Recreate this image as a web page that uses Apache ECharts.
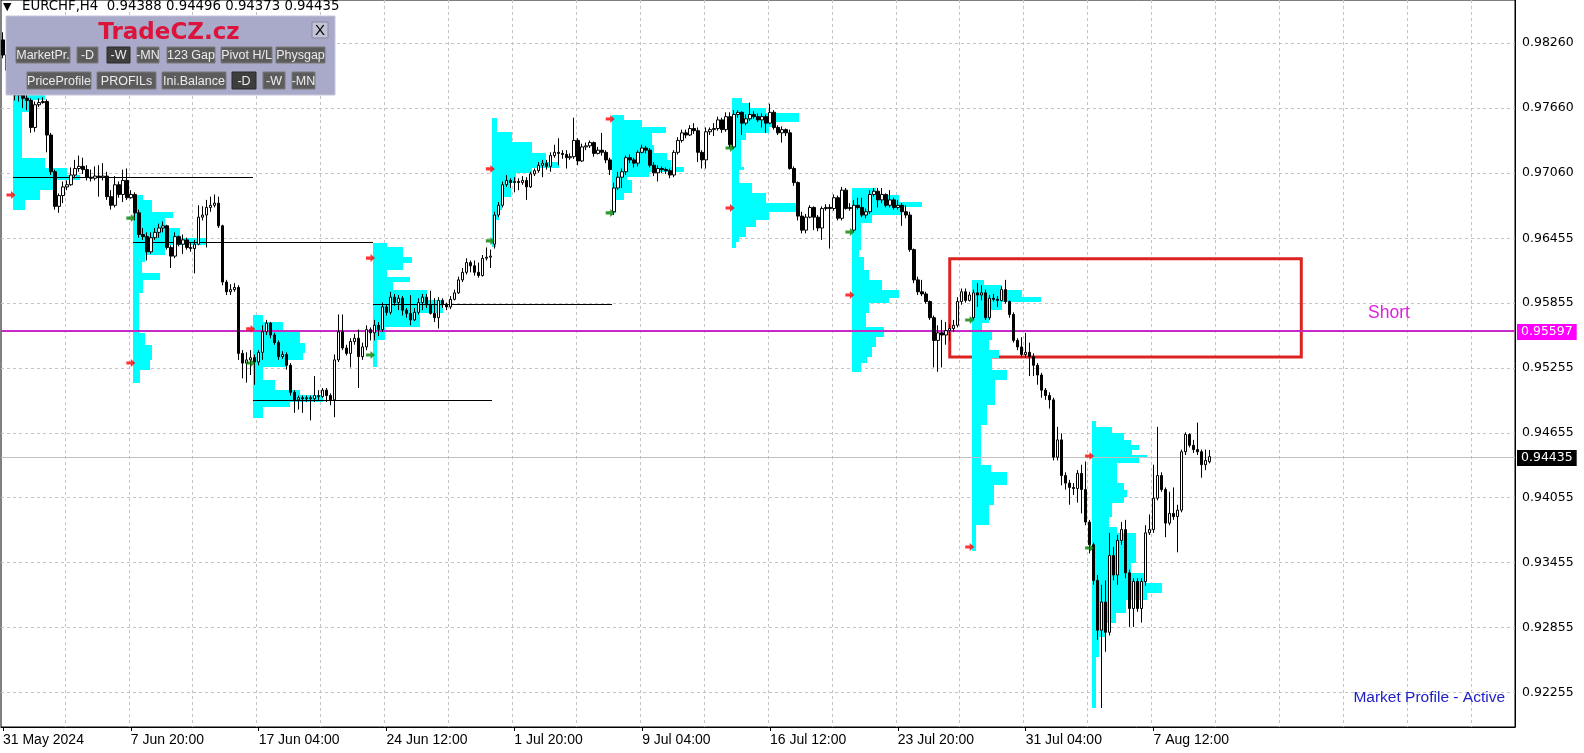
<!DOCTYPE html>
<html>
<head>
<meta charset="utf-8">
<title>EURCHF,H4</title>
<script src="https://cdn.jsdelivr.net/npm/echarts@6/dist/echarts.min.js"></script>
<style>
  html, body { margin: 0; padding: 0; background: #fff; }
  #chart { width: 1584px; height: 753px; }
</style>
</head>
<body>
<div id="chart"></div>
<script>
// bar slots on the time axis (H4 bars from 31 May 12:00, plus empty shift to the right)
const slotCount = 379;
const barsPerTick = 32;
const timeTicks = ['31 May 2024', '7 Jun 20:00', '17 Jun 04:00', '24 Jun 12:00', '1 Jul 20:00',
  '9 Jul 04:00', '16 Jul 12:00', '23 Jul 20:00', '31 Jul 04:00', '7 Aug 12:00'];
const priceTicks = [0.98260, 0.97660, 0.97060, 0.96455, 0.95855, 0.95255, 0.94655, 0.94055, 0.93455, 0.92855, 0.92255];
const priceMin = 0.91934;
const priceMax = 0.98659;

// candles: [open, close, low, high], one array per trading week
const week0 = [[0.9829,0.9815,0.9812,0.9836],[0.9815,0.9801,0.9794,0.9820],[0.9801,0.9787,0.9781,0.9803]];
const week1 = [
  [0.9787,0.9778,0.9773,0.9790],[0.9778,0.9781,0.9772,0.9785],[0.9781,0.9775,0.9766,0.9783],[0.9775,0.9773,0.9764,0.9778],
  [0.9773,0.9748,0.9743,0.9775],[0.9748,0.9769,0.9744,0.9772],[0.9769,0.9771,0.9767,0.9775],[0.9771,0.9772,0.9770,0.9776],
  [0.9772,0.9741,0.9725,0.9774],[0.9741,0.9707,0.9704,0.9743],[0.9707,0.9675,0.9672,0.9709],[0.9675,0.9685,0.9669,0.9687],
  [0.9685,0.9693,0.9678,0.9698],[0.9693,0.9695,0.9690,0.9699],[0.9695,0.9704,0.9694,0.9711],[0.9704,0.9710,0.9701,0.9718],
  [0.9710,0.9712,0.9707,0.9722],[0.9712,0.9709,0.9705,0.9720],[0.9709,0.9702,0.9699,0.9713],[0.9702,0.9701,0.9698,0.9709],
  [0.9701,0.9703,0.9699,0.9712],[0.9703,0.9702,0.9684,0.9713],[0.9702,0.9703,0.9699,0.9715],[0.9703,0.9684,0.9681,0.9707],
  [0.9684,0.9676,0.9672,0.9690],[0.9676,0.9695,0.9674,0.9703],[0.9695,0.9686,0.9683,0.9698],[0.9686,0.9699,0.9679,0.9709],
  [0.9699,0.9683,0.9681,0.9710],[0.9683,0.9686,0.9682,0.9690]];
const week2 = [
  [0.9686,0.9669,0.9662,0.9688],[0.9669,0.9649,0.9646,0.9672],[0.9649,0.9647,0.9644,0.9655],[0.9647,0.9633,0.9625,0.9651],
  [0.9633,0.9646,0.9631,0.9651],[0.9646,0.9651,0.9644,0.9655],[0.9651,0.9655,0.9646,0.9659],[0.9655,0.9657,0.9651,0.9661],
  [0.9657,0.9637,0.9635,0.9658],[0.9637,0.9629,0.9618,0.9639],[0.9629,0.9647,0.9627,0.9651],[0.9647,0.9640,0.9638,0.9648],
  [0.9640,0.9644,0.9631,0.9649],[0.9644,0.9637,0.9635,0.9646],[0.9637,0.9636,0.9633,0.9641],[0.9636,0.9640,0.9613,0.9644],
  [0.9640,0.9665,0.9639,0.9676],[0.9665,0.9667,0.9662,0.9675],[0.9667,0.9674,0.9637,0.9681],[0.9674,0.9676,0.9670,0.9684],
  [0.9676,0.9678,0.9674,0.9686],[0.9678,0.9657,0.9655,0.9684],[0.9657,0.9605,0.9602,0.9658],[0.9605,0.9596,0.9593,0.9607],
  [0.9596,0.9598,0.9593,0.9603],[0.9598,0.9600,0.9596,0.9604],[0.9600,0.9539,0.9533,0.9602],[0.9539,0.9530,0.9516,0.9542],
  [0.9530,0.9533,0.9512,0.9540],[0.9533,0.9535,0.9519,0.9542]];
const week3 = [
  [0.9535,0.9531,0.9510,0.9538],[0.9531,0.9540,0.9528,0.9542],[0.9540,0.9559,0.9533,0.9565],[0.9559,0.9567,0.9556,0.9570],
  [0.9567,0.9556,0.9553,0.9568],[0.9556,0.9549,0.9547,0.9558],[0.9549,0.9536,0.9533,0.9551],[0.9536,0.9538,0.9534,0.9541],
  [0.9538,0.9528,0.9524,0.9540],[0.9528,0.9503,0.9500,0.9530],[0.9503,0.9496,0.9484,0.9505],[0.9496,0.9498,0.9487,0.9500],
  [0.9498,0.9497,0.9484,0.9500],[0.9497,0.9498,0.9494,0.9500],[0.9498,0.9497,0.9477,0.9500],[0.9497,0.9500,0.9494,0.9518],
  [0.9500,0.9499,0.9496,0.9505],[0.9499,0.9505,0.9498,0.9507],[0.9505,0.9500,0.9494,0.9507],[0.9500,0.9496,0.9491,0.9502],
  [0.9496,0.9533,0.9480,0.9538],[0.9533,0.9559,0.9531,0.9575],[0.9559,0.9544,0.9542,0.9575],[0.9544,0.9539,0.9537,0.9547],
  [0.9539,0.9550,0.9526,0.9553],[0.9550,0.9553,0.9547,0.9557],[0.9553,0.9536,0.9507,0.9561],[0.9536,0.9545,0.9533,0.9549],
  [0.9545,0.9561,0.9542,0.9565],[0.9561,0.9558,0.9551,0.9563]];
const week4 = [
  [0.9558,0.9565,0.9551,0.9570],[0.9565,0.9561,0.9555,0.9568],[0.9561,0.9582,0.9559,0.9586],[0.9582,0.9577,0.9574,0.9584],
  [0.9577,0.9591,0.9575,0.9596],[0.9591,0.9586,0.9583,0.9594],[0.9586,0.9590,0.9579,0.9593],[0.9590,0.9579,0.9574,0.9592],
  [0.9579,0.9576,0.9572,0.9581],[0.9576,0.9570,0.9565,0.9593],[0.9570,0.9577,0.9569,0.9581],[0.9577,0.9586,0.9575,0.9590],
  [0.9586,0.9591,0.9579,0.9594],[0.9591,0.9584,0.9581,0.9594],[0.9584,0.9576,0.9575,0.9597],[0.9576,0.9572,0.9568,0.9590],
  [0.9572,0.9588,0.9562,0.9591],[0.9588,0.9584,0.9581,0.9590],[0.9584,0.9582,0.9579,0.9586],[0.9582,0.9589,0.9580,0.9592],
  [0.9589,0.9595,0.9588,0.9598],[0.9595,0.9607,0.9594,0.9610],[0.9607,0.9614,0.9605,0.9618],[0.9614,0.9623,0.9612,0.9627],
  [0.9623,0.9620,0.9614,0.9625],[0.9620,0.9614,0.9611,0.9625],[0.9614,0.9611,0.9609,0.9623],[0.9611,0.9627,0.9610,0.9630],
  [0.9627,0.9628,0.9625,0.9637],[0.9628,0.9629,0.9618,0.9635]];
const week5 = [
  [0.9640,0.9667,0.9636,0.9670],[0.9667,0.9676,0.9665,0.9679],[0.9676,0.9695,0.9674,0.9698],[0.9695,0.9699,0.9693,0.9704],
  [0.9699,0.9697,0.9692,0.9701],[0.9697,0.9698,0.9688,0.9702],[0.9698,0.9697,0.9690,0.9701],[0.9697,0.9699,0.9695,0.9703],
  [0.9699,0.9693,0.9681,0.9702],[0.9693,0.9705,0.9692,0.9707],[0.9705,0.9708,0.9703,0.9710],[0.9708,0.9713,0.9706,0.9716],
  [0.9713,0.9715,0.9702,0.9718],[0.9715,0.9712,0.9709,0.9718],[0.9712,0.9722,0.9707,0.9725],[0.9722,0.9725,0.9720,0.9732],
  [0.9725,0.9724,0.9713,0.9738],[0.9724,0.9723,0.9719,0.9727],[0.9723,0.9720,0.9710,0.9727],[0.9720,0.9721,0.9718,0.9724],
  [0.9721,0.9736,0.9719,0.9757],[0.9736,0.9717,0.9713,0.9738],[0.9717,0.9730,0.9716,0.9733],[0.9730,0.9731,0.9727,0.9734],
  [0.9731,0.9734,0.9729,0.9736],[0.9734,0.9724,0.9721,0.9735],[0.9724,0.9727,0.9723,0.9730],[0.9727,0.9725,0.9722,0.9743],
  [0.9725,0.9718,0.9715,0.9727],[0.9718,0.9709,0.9704,0.9720]];
const week6 = [
  [0.9670,0.9692,0.9667,0.9697],[0.9692,0.9702,0.9690,0.9707],[0.9702,0.9707,0.9692,0.9710],[0.9707,0.9720,0.9704,0.9722],
  [0.9720,0.9718,0.9715,0.9723],[0.9718,0.9715,0.9711,0.9720],[0.9715,0.9725,0.9712,0.9727],[0.9725,0.9729,0.9724,0.9732],
  [0.9729,0.9727,0.9724,0.9731],[0.9727,0.9713,0.9711,0.9729],[0.9713,0.9706,0.9703,0.9716],[0.9706,0.9710,0.9698,0.9713],
  [0.9710,0.9709,0.9706,0.9712],[0.9709,0.9708,0.9705,0.9711],[0.9708,0.9704,0.9701,0.9710],[0.9704,0.9725,0.9702,0.9727],
  [0.9725,0.9736,0.9723,0.9739],[0.9736,0.9743,0.9734,0.9746],[0.9743,0.9741,0.9738,0.9746],[0.9741,0.9747,0.9740,0.9750],
  [0.9747,0.9745,0.9742,0.9752],[0.9745,0.9725,0.9716,0.9748],[0.9725,0.9718,0.9710,0.9727],[0.9718,0.9744,0.9710,0.9748],
  [0.9744,0.9746,0.9741,0.9748],[0.9746,0.9747,0.9740,0.9752],[0.9747,0.9755,0.9745,0.9758],[0.9755,0.9746,0.9743,0.9757],
  [0.9746,0.9758,0.9744,0.9762],[0.9758,0.9732,0.9729,0.9762]];
const week7 = [
  [0.9730,0.9760,0.9728,0.9764],[0.9760,0.9762,0.9757,0.9764],[0.9762,0.9752,0.9741,0.9763],[0.9752,0.9756,0.9750,0.9760],
  [0.9756,0.9760,0.9754,0.9771],[0.9760,0.9758,0.9756,0.9763],[0.9758,0.9755,0.9753,0.9761],[0.9755,0.9758,0.9748,0.9761],
  [0.9758,0.9752,0.9743,0.9760],[0.9752,0.9762,0.9751,0.9770],[0.9762,0.9748,0.9746,0.9764],[0.9748,0.9743,0.9741,0.9750],
  [0.9743,0.9746,0.9734,0.9749],[0.9746,0.9743,0.9740,0.9747],[0.9743,0.9710,0.9709,0.9746],[0.9710,0.9697,0.9694,0.9712],
  [0.9697,0.9666,0.9662,0.9698],[0.9666,0.9653,0.9650,0.9670],[0.9653,0.9665,0.9650,0.9668],[0.9665,0.9674,0.9664,0.9676],
  [0.9674,0.9665,0.9653,0.9675],[0.9665,0.9655,0.9652,0.9667],[0.9655,0.9673,0.9644,0.9675],[0.9673,0.9674,0.9671,0.9677],
  [0.9674,0.9673,0.9636,0.9677],[0.9673,0.9683,0.9671,0.9686],[0.9683,0.9664,0.9662,0.9685],[0.9664,0.9690,0.9662,0.9693],
  [0.9690,0.9673,0.9672,0.9692],[0.9673,0.9674,0.9671,0.9678]];
const week8 = [
  [0.9653,0.9676,0.9651,0.9681],[0.9676,0.9674,0.9672,0.9683],[0.9674,0.9667,0.9665,0.9683],[0.9667,0.9670,0.9664,0.9673],
  [0.9670,0.9686,0.9668,0.9690],[0.9686,0.9689,0.9684,0.9692],[0.9689,0.9681,0.9674,0.9692],[0.9681,0.9686,0.9678,0.9692],
  [0.9686,0.9676,0.9674,0.9687],[0.9676,0.9681,0.9674,0.9690],[0.9681,0.9674,0.9672,0.9683],[0.9674,0.9676,0.9672,0.9681],
  [0.9676,0.9670,0.9657,0.9678],[0.9670,0.9667,0.9664,0.9676],[0.9667,0.9635,0.9633,0.9670],[0.9635,0.9607,0.9604,0.9636],
  [0.9607,0.9596,0.9593,0.9610],[0.9596,0.9594,0.9592,0.9607],[0.9594,0.9587,0.9585,0.9596],[0.9587,0.9572,0.9570,0.9588],
  [0.9572,0.9551,0.9526,0.9574],[0.9551,0.9558,0.9522,0.9565],[0.9558,0.9556,0.9526,0.9570],[0.9556,0.9560,0.9547,0.9568],
  [0.9560,0.9562,0.9551,0.9566],[0.9562,0.9565,0.9559,0.9570],[0.9565,0.9587,0.9563,0.9591],[0.9587,0.9596,0.9584,0.9599],
  [0.9596,0.9588,0.9586,0.9599],[0.9588,0.9593,0.9587,0.9596]];
const week9 = [
  [0.9572,0.9595,0.9570,0.9598],[0.9595,0.9593,0.9582,0.9604],[0.9593,0.9595,0.9588,0.9602],[0.9595,0.9572,0.9570,0.9598],
  [0.9572,0.9590,0.9570,0.9593],[0.9590,0.9589,0.9587,0.9594],[0.9589,0.9588,0.9582,0.9592],[0.9588,0.9598,0.9587,0.9601],
  [0.9598,0.9587,0.9585,0.9607],[0.9587,0.9575,0.9572,0.9588],[0.9575,0.9551,0.9549,0.9577],[0.9551,0.9545,0.9542,0.9553],
  [0.9545,0.9538,0.9536,0.9554],[0.9538,0.9540,0.9535,0.9558],[0.9540,0.9536,0.9518,0.9549],[0.9536,0.9528,0.9518,0.9539],
  [0.9528,0.9519,0.9510,0.9530],[0.9519,0.9505,0.9498,0.9521],[0.9505,0.9500,0.9496,0.9507],[0.9500,0.9496,0.9488,0.9503],
  [0.9496,0.9443,0.9440,0.9498],[0.9443,0.9459,0.9440,0.9471],[0.9459,0.9426,0.9417,0.9465],[0.9426,0.9419,0.9413,0.9429],
  [0.9419,0.9415,0.9399,0.9422],[0.9415,0.9414,0.9408,0.9419],[0.9414,0.9428,0.9401,0.9431],[0.9428,0.9413,0.9391,0.9436],
  [0.9413,0.9383,0.9380,0.9439],[0.9383,0.9362,0.9354,0.9385]];
const week10 = [
  [0.9362,0.9329,0.9325,0.9364],[0.9329,0.9283,0.9274,0.9334],[0.9283,0.9309,0.9211,0.9325],[0.9309,0.9281,0.9263,0.9329],
  [0.9281,0.9352,0.9278,0.9373],[0.9352,0.9334,0.9329,0.9360],[0.9334,0.9366,0.9325,0.9371],[0.9366,0.9376,0.9362,0.9383],
  [0.9376,0.9336,0.9331,0.9385],[0.9336,0.9303,0.9286,0.9339],[0.9303,0.9328,0.9286,0.9331],[0.9328,0.9303,0.9300,0.9331],
  [0.9303,0.9328,0.9290,0.9331],[0.9328,0.9373,0.9324,0.9380],[0.9373,0.9376,0.9371,0.9390],[0.9376,0.9405,0.9373,0.9436],
  [0.9405,0.9426,0.9403,0.9471],[0.9426,0.9413,0.9411,0.9429],[0.9413,0.9382,0.9369,0.9415],[0.9382,0.9391,0.9380,0.9411],
  [0.9391,0.9388,0.9385,0.9415],[0.9388,0.9394,0.9355,0.9399],[0.9394,0.9448,0.9392,0.9450],[0.9448,0.9464,0.9445,0.9466],
  [0.9464,0.9454,0.9452,0.9465],[0.9454,0.9450,0.9447,0.9459],[0.9450,0.9448,0.9445,0.9475],[0.9448,0.9436,0.9424,0.9450],
  [0.9436,0.9440,0.9431,0.9450],[0.94388,0.94435,0.94373,0.94496]];

// weekly market profiles: first bar of the week, rows of [upper price, lower price, length in bars]
const profileStart = [3, 33, 63, 93, 123, 153, 183, 213, 243, 273];
const profile1 = [[0.97799,0.97734,8.1],[0.97734,0.97623,5.1],[0.97623,0.97198,2.2],[0.97198,0.97105,8.1],[0.97105,0.97040,13.6],
  [0.97040,0.96994,16.8],[0.96994,0.96902,10.6],[0.96902,0.96809,6.8],[0.96809,0.96717,3.1]];
const profile2 = [[0.96855,0.96809,2.6],[0.96809,0.96698,4.8],[0.96698,0.96643,10.1],[0.96643,0.96550,8.1],[0.96550,0.96457,11.8],
  [0.96457,0.96393,18.6],[0.96393,0.96300,8.1],[0.96300,0.96236,3.1],[0.96236,0.96134,2.3],[0.96134,0.96069,6.8],
  [0.96069,0.95949,2.6],[0.95949,0.95579,1.6],[0.95579,0.95468,3.1],[0.95468,0.95329,4.8],[0.95329,0.95236,4.3],[0.95236,0.95116,1.8]];
const profile3 = [[0.95745,0.95681,2.6],[0.95681,0.95607,7.6],[0.95607,0.95486,11.8],[0.95486,0.95394,13.1],[0.95394,0.95329,12.6],
  [0.95329,0.95264,8.6],[0.95264,0.95144,2.6],[0.95144,0.95052,5.6],[0.95052,0.95005,11.8],[0.95005,0.94941,17.6],
  [0.94941,0.94894,9.3],[0.94894,0.94792,2.6]];
const profile4 = [[0.96411,0.96374,3.6],[0.96374,0.96282,7.6],[0.96282,0.96226,9.8],[0.96226,0.96162,7.6],[0.96162,0.96097,3.6],
  [0.96097,0.96051,9.3],[0.96051,0.95977,5.1],[0.95977,0.95884,13.6],[0.95884,0.95764,17.6],[0.95764,0.95634,11.8],
  [0.95634,0.95514,3.1],[0.95514,0.95264,1.1]];
const profile5 = [[0.97568,0.97438,1.3],[0.97438,0.97346,5.1],[0.97346,0.97244,10.1],[0.97244,0.97161,13.6],[0.97161,0.97105,16.8],
  [0.97105,0.97059,10.1],[0.97059,0.96966,6.1],[0.96966,0.96837,4.8],[0.96837,0.96717,2.6],[0.96717,0.96624,1.8],[0.96624,0.96374,1.1]];
const profile6 = [[0.97595,0.97549,3.1],[0.97549,0.97484,7.6],[0.97484,0.97429,13.6],[0.97429,0.97318,10.1],[0.97318,0.97244,10.6],
  [0.97244,0.97179,13.8],[0.97179,0.97114,14.8],[0.97114,0.97068,18.1],[0.97068,0.97022,9.3],[0.97022,0.96994,3.8],
  [0.96994,0.96874,5.1],[0.96874,0.96809,3.1],[0.96809,0.96689,1.1]];
const profile7 = [[0.97753,0.97706,2.6],[0.97706,0.97660,4.3],[0.97660,0.97614,8.6],[0.97614,0.97530,16.8],[0.97530,0.97484,10.1],
  [0.97484,0.97429,9.3],[0.97429,0.97364,3.6],[0.97364,0.97114,2.3],[0.97114,0.97087,3.1],[0.97087,0.96966,1.8],
  [0.96966,0.96874,5.1],[0.96874,0.96781,8.6],[0.96781,0.96698,16.1],[0.96698,0.96624,9.3],[0.96624,0.96559,6.1],
  [0.96559,0.96467,3.6],[0.96467,0.96420,1.8],[0.96420,0.96365,1.1]];
const profile8 = [[0.96920,0.96855,6.1],[0.96855,0.96790,11.8],[0.96790,0.96744,17.6],[0.96744,0.96670,12.6],[0.96670,0.96596,5.1],
  [0.96596,0.96347,2.3],[0.96347,0.96282,1.8],[0.96282,0.96162,3.1],[0.96162,0.96069,4.3],[0.96069,0.95977,7.6],
  [0.95977,0.95903,11.8],[0.95903,0.95856,9.3],[0.95856,0.95764,4.3],[0.95764,0.95634,3.6],[0.95634,0.95542,8.1],
  [0.95542,0.95449,6.1],[0.95449,0.95357,5.1],[0.95357,0.95301,3.8],[0.95301,0.95218,2.3]];
const profile9 = [[0.96069,0.96023,3.1],[0.96023,0.95977,7.6],[0.95977,0.95912,12.6],[0.95912,0.95866,17.3],[0.95866,0.95792,7.6],
  [0.95792,0.95671,4.3],[0.95671,0.95607,2.6],[0.95607,0.95514,5.1],[0.95514,0.95422,4.3],[0.95422,0.95348,6.8],
  [0.95348,0.95237,5.1],[0.95237,0.95144,8.8],[0.95144,0.94913,5.8],[0.94913,0.94728,3.8],[0.94728,0.94358,2.3],
  [0.94358,0.94293,4.8],[0.94293,0.94173,8.8],[0.94173,0.93988,5.6],[0.93988,0.93803,4.3],[0.93803,0.93562,1.1]];
const profile10 = [[0.94765,0.94709,1.1],[0.94709,0.94654,5.1],[0.94654,0.94589,8.1],[0.94589,0.94543,9.8],[0.94543,0.94497,11.8],
  [0.94497,0.94450,10.1],[0.94450,0.94423,13.8],[0.94423,0.94376,11.8],[0.94376,0.94191,6.3],[0.94191,0.94127,8.1],
  [0.94127,0.94062,8.8],[0.94062,0.94007,8.1],[0.94007,0.93877,5.1],[0.93877,0.93784,4.3],[0.93784,0.93729,6.3],
  [0.93729,0.93451,11.1],[0.93451,0.93359,9.8],[0.93359,0.93266,13.6],[0.93266,0.93174,17.6],[0.93174,0.93109,13.8],
  [0.93109,0.92989,8.6],[0.92989,0.92896,6.1],[0.92896,0.92767,3.6],[0.92767,0.92582,1.8],[0.92582,0.92110,1.1]];

// point of control lines: [from bar, to bar, price]
const pocLines = [[3, 63, 0.97022], [33, 93, 0.96424], [63, 123, 0.94959], [93, 153, 0.95847]];

// weekly arrows: [bar, price]
const greenArrows = [[2,0.97937],[32,0.96642],[62,0.95301],[92,0.95375],[122,0.96430],[152,0.96689],[182,0.97290],[212,0.96513],[242,0.95699],[272,0.93590]];
const redArrows = [[2,0.96855],[32,0.95301],[62,0.95616],[92,0.96272],[122,0.97096],[152,0.97558],[182,0.96735],[212,0.95930],[242,0.93599],[272,0.94441]];

// horizontal levels: short entry and last close
const levelPrices = [0.95597, 0.94435];
const shortBox = [237, 0.96266, 325, 0.95357]; // from bar, upper price, to bar, lower price

const candles = [].concat(week0, week1, week2, week3, week4, week5, week6, week7, week8, week9, week10);
const categories = Array.from({ length: slotCount }, (_, i) => String(i));
const profiles = [profile1, profile2, profile3, profile4, profile5, profile6, profile7, profile8, profile9, profile10];
const profileData = [];
profiles.forEach((rows, i) => rows.forEach(r => profileData.push([profileStart[i], r[0], r[1], r[2]])));

const arrowPath = 'path://M0,3L5,3L5,0L10,5L5,10L5,7L0,7Z';
const axisFont = 'DejaVu Sans';
const levelStyle = [
  { stroke: '#c629c6', width: 2, bg: '#ff00ff' },
  { stroke: '#c0c0c0', width: 1, bg: '#000000' }
];

// panel buttons (UI only)
function button(label, x0, x1, y0, y1, pressed) {
  return [
    { type: 'rect', z: 101, shape: { x: x0, y: y0, width: x1 - x0, height: y1 - y0 },
      style: { fill: pressed ? '#3e3e3e' : '#5c5c5c', stroke: pressed ? '#2a2a2a' : '#7a7a7a', lineWidth: 1 } },
    { type: 'text', z: 102, x: (x0 + x1) / 2, y: (y0 + y1) / 2 + 1,
      style: { text: label, fill: '#ececec', font: '12.5px "Liberation Sans"', align: 'center', verticalAlign: 'middle' } }
  ];
}

const graphics = [
  { type: 'text', x: 3, y: 7, z: 100,
    style: { text: '\u25BC', fill: '#000', font: '11px "DejaVu Sans"', verticalAlign: 'middle' } },
  { type: 'text', x: 22, y: 7, z: 100,
    style: { text: 'EURCHF,H4  0.94388 0.94496 0.94373 0.94435', fill: '#000', font: '13.3px "DejaVu Sans"', verticalAlign: 'middle' } },
  { type: 'rect', z: 100, shape: { x: 6, y: 16, width: 329, height: 79 },
    style: { fill: '#a9a9c9', stroke: '#c6c6dc', lineWidth: 1 } },
  { type: 'text', z: 101, x: 169, y: 33,
    style: { text: 'TradeCZ.cz', fill: '#dc143c', font: 'bold 23px "DejaVu Sans"', align: 'center', verticalAlign: 'middle' } },
  { type: 'rect', z: 101, shape: { x: 312, y: 22, width: 16, height: 16 },
    style: { fill: '#c2c2d6', stroke: '#8888a0', lineWidth: 1 } },
  { type: 'text', z: 102, x: 320, y: 31,
    style: { text: 'X', fill: '#000', font: '15px "Liberation Sans"', align: 'center', verticalAlign: 'middle' } },
  ...button('MarketPr.', 16, 70, 47, 63, false),
  ...button('-D', 77, 98, 47, 63, false),
  ...button('-W', 107, 130, 47, 63, true),
  ...button('-MN', 137, 159, 47, 63, false),
  ...button('123 Gap', 167, 215, 47, 63, false),
  ...button('Pivot H/L', 221, 272, 47, 63, false),
  ...button('Physgap', 276, 325, 47, 63, false),
  ...button('PriceProfile', 27, 91, 72, 89, false),
  ...button('PROFILs', 97, 156, 72, 89, false),
  ...button('Ini.Balance', 162, 226, 72, 89, false),
  ...button('-D', 232, 256, 72, 89, true),
  ...button('-W', 263, 285, 72, 89, false),
  ...button('-MN', 292, 315, 72, 89, false),
  { type: 'text', z: 50, x: 1389, y: 313,
    style: { text: 'Short', fill: '#dd22dd', font: '17.5px "Liberation Sans"', align: 'center', verticalAlign: 'middle' } },
  { type: 'text', z: 50, x: 1505, y: 698,
    style: { text: 'Market Profile - Active', fill: '#2020c8', font: '15.5px "Liberation Sans"', align: 'right', verticalAlign: 'middle' } }
];

const chart = echarts.init(document.getElementById('chart'), null, { renderer: 'canvas' });
chart.setOption({
  animation: false,
  backgroundColor: '#fff',
  textStyle: { fontFamily: axisFont },
  grid: { left: 1, right: 69, top: 0, bottom: 26, show: true, borderColor: '#000', borderWidth: 1, outerBoundsMode: 'none' },
  xAxis: {
    type: 'category',
    data: categories,
    boundaryGap: true,
    axisLine: { show: true, lineStyle: { color: '#000', width: 1 } },
    axisTick: {
      show: true, alignWithLabel: true, length: 4, lineStyle: { color: '#000' },
      interval: i => i % barsPerTick === 0 && i / barsPerTick < timeTicks.length
    },
    axisLabel: {
      interval: i => i % barsPerTick === 0 && i / barsPerTick < timeTicks.length,
      formatter: (v, i) => timeTicks[i / barsPerTick] || '',
      align: 'left', color: '#000', fontFamily: 'Liberation Sans', fontSize: 14, margin: 6
    },
    splitLine: { show: true, interval: i => i > 0 && i % 16 === 0, lineStyle: { color: '#c4c4c4', type: [3, 3], width: 1 } }
  },
  yAxis: {
    type: 'value', position: 'right', min: priceMin, max: priceMax, scale: true,
    axisLine: { show: true, lineStyle: { color: '#000' } },
    axisTick: { show: false, customValues: priceTicks },
    axisLabel: { customValues: priceTicks, formatter: v => v.toFixed(5), color: '#000', fontFamily: axisFont, fontSize: 12.5, margin: 7 },
    splitLine: { show: true, lineStyle: { color: '#c4c4c4', type: [3, 3], width: 1 } }
  },
  graphic: graphics,
  series: [
    {
      type: 'custom', name: 'profiles', z: 1, silent: true,
      encode: { x: 0, y: [1, 2] },
      data: profileData,
      renderItem: (params, api) => {
        const bw = api.size([1, 0])[0];
        const top = api.coord([api.value(0), api.value(1)]);
        const bot = api.coord([api.value(0), api.value(2)]);
        const x0 = Math.round(top[0] - bw / 2);
        const y0 = Math.round(top[1]);
        return {
          type: 'rect',
          shape: { x: x0, y: y0, width: Math.round(api.value(3) * bw), height: Math.round(bot[1]) - y0 },
          style: { fill: '#00ffff' }
        };
      }
    },
    {
      type: 'custom', name: 'poc', z: 2, silent: true,
      encode: { x: [0, 1], y: 2 },
      data: pocLines,
      renderItem: (params, api) => {
        const bw = api.size([1, 0])[0];
        const a = api.coord([api.value(0), api.value(2)]);
        const b = api.coord([api.value(1), api.value(2)]);
        const y = Math.round(a[1]) + 0.5;
        return {
          type: 'line',
          shape: { x1: Math.round(a[0] - bw / 2), y1: y, x2: Math.round(b[0] - bw / 2), y2: y },
          style: { stroke: '#000', lineWidth: 1 }
        };
      }
    },
    {
      type: 'custom', name: 'levels', z: 3, silent: true, clip: false,
      encode: { x: 0, y: 1 },
      data: levelPrices.map((p, i) => [0, p, i]),
      renderItem: (params, api) => {
        const cs = params.coordSys;
        const st = levelStyle[api.value(2)];
        const p = api.coord([0, api.value(1)]);
        const y = Math.round(p[1]) + (st.width % 2 ? 0.5 : 0);
        return {
          type: 'group',
          children: [
            { type: 'line', shape: { x1: cs.x, y1: y, x2: cs.x + cs.width, y2: y },
              style: { stroke: st.stroke, lineWidth: st.width } },
            { type: 'text', x: cs.x + cs.width + 2, y: Math.round(p[1]) + 1,
              style: { text: api.value(1).toFixed(5), fill: '#fff', backgroundColor: st.bg, padding: [2, 4, 1, 4],
                font: '12.5px "DejaVu Sans"', verticalAlign: 'middle' } }
          ]
        };
      }
    },
    {
      type: 'candlestick', name: 'EURCHF,H4', z: 4, silent: true,
      barWidth: 3,
      data: candles,
      itemStyle: { color: '#ffffff', color0: '#000000', borderColor: '#000000', borderColor0: '#000000', borderWidth: 1 }
    },
    {
      type: 'line', name: 'box', data: [], z: 5, silent: true,
      markArea: {
        silent: true,
        itemStyle: { color: 'rgba(0,0,0,0)', borderColor: '#dd2222', borderWidth: 3 },
        data: [[{ xAxis: String(shortBox[0]), yAxis: shortBox[1] }, { xAxis: String(shortBox[2]), yAxis: shortBox[3] }]]
      }
    },
    {
      type: 'scatter', name: 'up', z: 6, silent: true,
      symbol: arrowPath, symbolSize: [9, 8],
      itemStyle: { color: '#008000' },
      data: greenArrows
    },
    {
      type: 'scatter', name: 'down', z: 6, silent: true,
      symbol: arrowPath, symbolSize: [9, 8],
      itemStyle: { color: '#ff0000' },
      data: redArrows
    }
  ]
});
</script>
</body>
</html>
